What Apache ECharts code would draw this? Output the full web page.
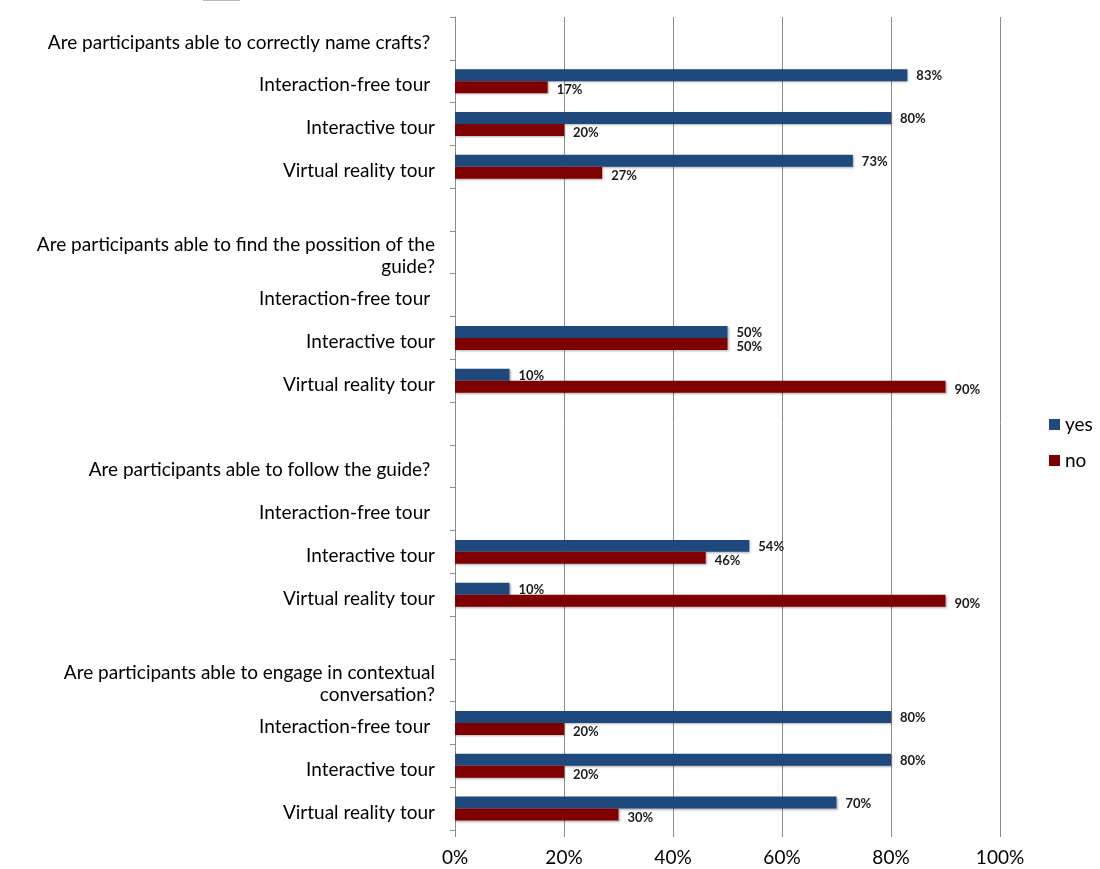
<!DOCTYPE html>
<html>
<head>
<meta charset="utf-8">
<script src="https://cdn.jsdelivr.net/npm/echarts@6/dist/echarts.min.js"></script>
<style>
html,body{margin:0;padding:0;background:#fff;}
#chart{width:1100px;height:869px;}
</style>
</head>
<body>
<div id="chart"></div>
<script>
var categories = [
  "Are participants able to correctly name crafts? ",
  "Interaction-free tour ",
  "Interactive tour",
  "Virtual reality tour",
  "",
  "Are participants able to find the possition of the\nguide?",
  "Interaction-free tour ",
  "Interactive tour",
  "Virtual reality tour",
  "",
  "Are participants able to follow the guide? ",
  "Interaction-free tour ",
  "Interactive tour",
  "Virtual reality tour",
  "",
  "Are participants able to engage in contextual\nconversation?",
  "Interaction-free tour ",
  "Interactive tour",
  "Virtual reality tour"
];
var yesValues = [null, 83, 80, 73, null, null, null, 50, 10, null, null, null, 54, 10, null, null, 80, 80, 70];
var noValues  = [null, 17, 20, 27, null, null, null, 50, 90, null, null, null, 46, 90, null, null, 20, 20, 30];
var xTicks = [0, 20, 40, 60, 80, 100];

var FONT = 'Lato, "Open Sans", sans-serif';
var chart = echarts.init(document.getElementById('chart'));
function makeLabel(dy) {
  return {
    show: true, position: 'right', distance: 9, offset: [0, dy],
    formatter: function (p) { return p.value == null ? '' : p.value + '%'; },
    fontSize: 13, fontWeight: 'bold', color: '#1a1a1a', fontFamily: FONT
  };
}
var shadow = { shadowBlur: 2, shadowOffsetX: 1, shadowOffsetY: 1, shadowColor: 'rgba(0,0,0,0.3)' };
chart.setOption({
  animation: false,
  textStyle: { fontFamily: FONT },
  grid: { left: 455, right: 100, top: 17, bottom: 39 },
  legend: {
    orient: 'vertical', left: 1044, top: 410,
    itemWidth: 11, itemHeight: 11, itemGap: 17, icon: 'rect',
    textStyle: { fontSize: 19, color: '#000', fontFamily: FONT },
    data: ['yes', 'no']
  },
  xAxis: {
    type: 'value', min: xTicks[0], max: xTicks[xTicks.length - 1], interval: 20,
    axisLine: { show: false },
    axisTick: { show: true, length: 7, lineStyle: { color: '#8c8c8c' } },
    splitLine: { show: true, lineStyle: { color: '#8c8c8c', width: 1 } },
    axisLabel: { formatter: '{value}%', fontSize: 19, color: '#000', margin: 18, fontFamily: FONT }
  },
  yAxis: {
    type: 'category', inverse: true, data: categories,
    axisLine: { show: true, lineStyle: { color: '#8c8c8c' } },
    axisTick: { show: true, length: 5, lineStyle: { color: '#8c8c8c' } },
    axisLabel: {
      margin: 20, interval: 0,
      formatter: function (v) {
        if (!v) return '';
        return '{s| }\n' + v.split('\n').map(function (l) { return '{t|' + l + '}'; }).join('\n');
      },
      rich: {
        s: { fontSize: 1, lineHeight: 8 },
        t: { fontSize: 19, lineHeight: 22, color: '#000', fontFamily: FONT }
      }
    }
  },
  graphic: [{
    type: 'line', shape: { x1: 203, y1: 0.5, x2: 240, y2: 0.5 },
    style: { stroke: '#bbbbbb', lineWidth: 1 }
  }],
  series: [
    {
      name: 'yes', type: 'bar', data: yesValues, barGap: '0%', barCategoryGap: '44%',
      itemStyle: Object.assign({ color: '#1f497d' }, shadow),
      label: makeLabel(1)
    },
    {
      name: 'no', type: 'bar', data: noValues, barGap: '0%', barCategoryGap: '44%',
      itemStyle: Object.assign({ color: '#7f0000' }, shadow),
      label: makeLabel(3)
    }
  ]
});
</script>
</body>
</html>
